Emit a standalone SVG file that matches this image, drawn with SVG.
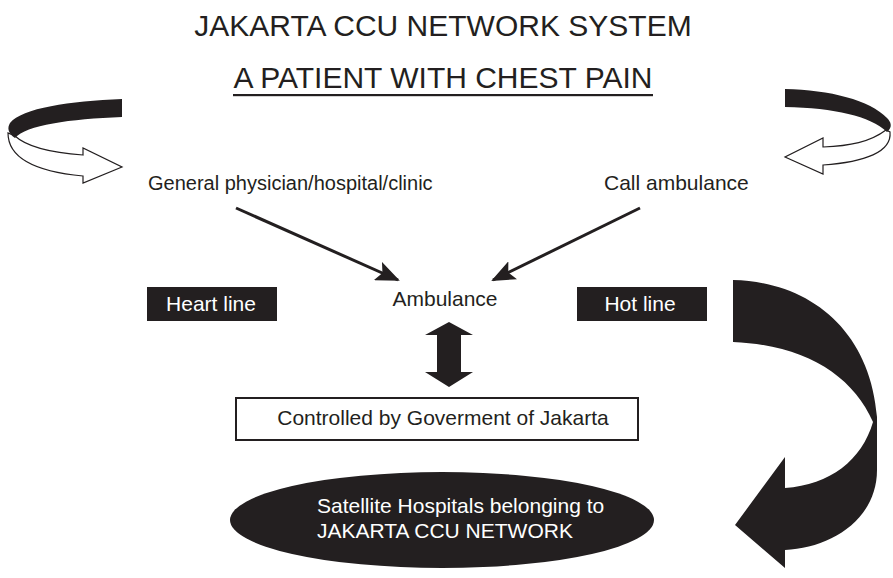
<svg xmlns="http://www.w3.org/2000/svg" width="893" height="578" viewBox="0 0 893 578">
<style>
text{font-family:"Liberation Sans",Arial,sans-serif;fill:#231f20}
.t{font-size:30px}
.n{font-size:20px}
.m{font-size:21px}
.w{fill:#ffffff}
.blk{fill:#231f20}
.ln{stroke:#231f20;stroke-width:3;fill:none}
</style>
<defs>
<marker id="ah" viewBox="0 0 12 10" refX="11" refY="5" markerWidth="24" markerHeight="20" markerUnits="userSpaceOnUse" orient="auto">
<path d="M0,0 L12,5 L0,10 L2.5,5 Z" fill="#231f20"/>
</marker>
</defs>
<rect width="893" height="578" fill="#ffffff"/>
<g id="title">
<text class="t" x="443" y="36" text-anchor="middle">JAKARTA CCU NETWORK SYSTEM</text>
<text class="t" x="443" y="88" text-anchor="middle">A PATIENT WITH CHEST PAIN</text>
<rect x="233" y="94" width="420" height="2.2" class="blk"/>
</g>
<g id="left-curl">
<path d="M15,136 C28,148 55,153 83,155 L83,148 L122,167 L83,183 L83,176 C40,172 8,160 8,133 Z" fill="#ffffff" stroke="#231f20" stroke-width="1.2"/>
<path class="blk" d="M122,99 L122,117 C70,119 26,125 15,138 C8,133 7,128 10,123 C22,108 70,101 122,99 Z"/>
</g>
<g id="right-curl">
<path d="M886,130 C870,142 850,146 823,147 L823,138 L785,157 L823,174 L823,165 C865,162 892,152 890,132 Z" fill="#ffffff" stroke="#231f20" stroke-width="1.2"/>
<path class="blk" d="M785,89 L785,107 C835,108 870,116 887,132 C893,127 891,122 887,118 C870,100 830,90 785,89 Z"/>
</g>
<g id="big-arrow">
<path class="blk" d="M733,280 C810,282 870,330 877,417 L877,470 C877,520 830,548 785,550 L785,568 L735,525 L785,457 L785,488 C830,485 862,460 873,422 C852,375 805,345 733,342 Z"/>
</g>
<g id="general">
<text class="n" x="148" y="190">General physician/hospital/clinic</text>
</g>
<g id="call">
<text class="m" x="604" y="190">Call ambulance</text>
</g>
<g id="ambulance">
<text class="m" x="445" y="306" text-anchor="middle">Ambulance</text>
</g>
<g id="heart-line">
<rect x="147" y="287" width="130" height="34" class="blk"/>
<text class="m w" x="211" y="311" text-anchor="middle">Heart line</text>
</g>
<g id="hot-line">
<rect x="577" y="287" width="130" height="34" class="blk"/>
<text class="m w" x="640" y="311" text-anchor="middle">Hot line</text>
</g>
<g id="controlled">
<rect x="236" y="398" width="402" height="42" fill="#ffffff" stroke="#231f20" stroke-width="2"/>
<text class="m" x="443" y="425" text-anchor="middle">Controlled by Goverment of Jakarta</text>
</g>
<g id="satellite">
<ellipse cx="442" cy="520" rx="212" ry="48" class="blk"/>
<text class="m w" x="317" y="513">Satellite Hospitals belonging to</text>
<text class="m w" x="317" y="538">JAKARTA CCU NETWORK</text>
</g>
<g id="connectors">
<line class="ln" x1="236" y1="208" x2="398" y2="280" marker-end="url(#ah)"/>
<line class="ln" x1="640" y1="208" x2="493" y2="280" marker-end="url(#ah)"/>
<path class="blk" d="M449,322 L473,335 L461,335 L461,372 L473,372 L449,387 L425,372 L437,372 L437,335 L425,335 Z"/>
</g>
</svg>
